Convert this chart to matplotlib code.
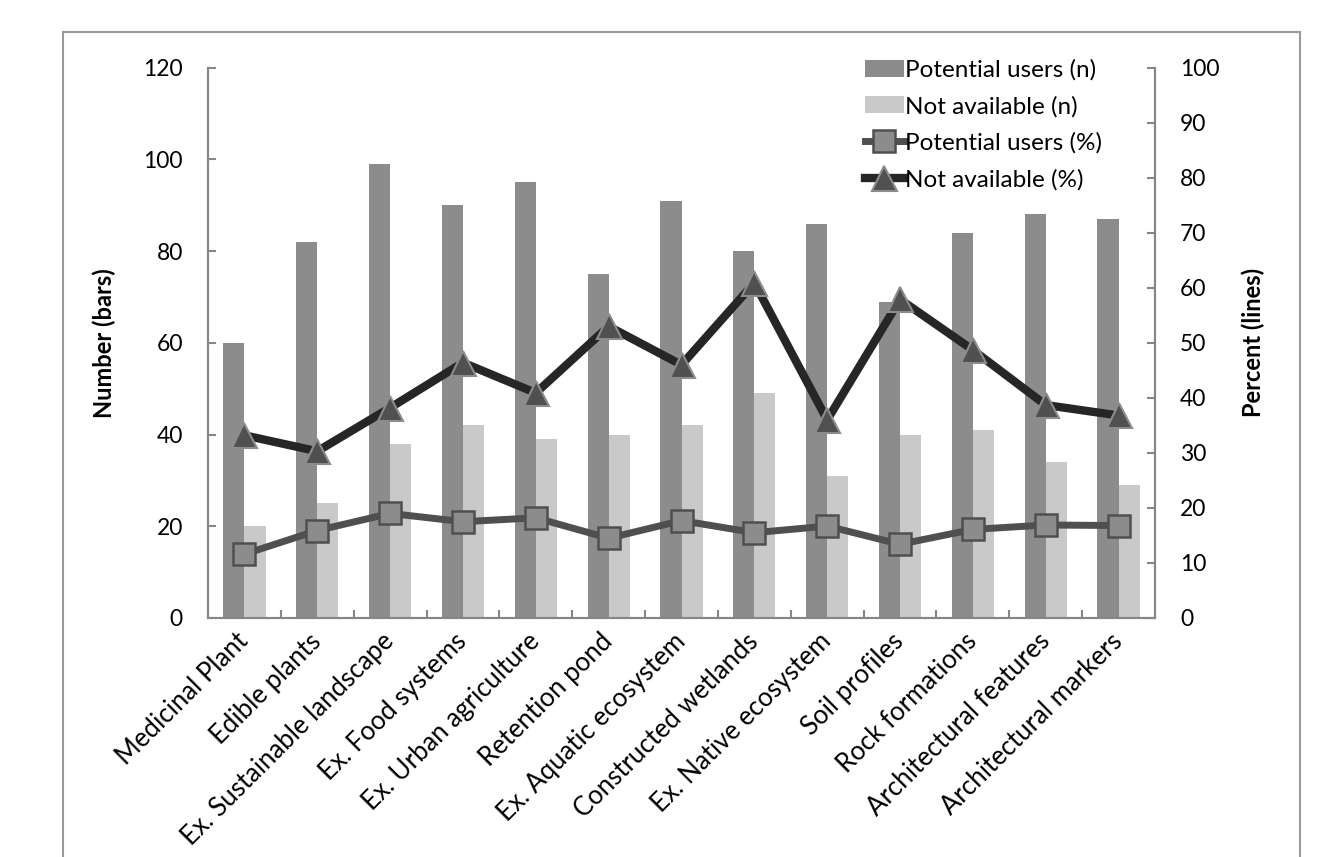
import numpy as np
import matplotlib
matplotlib.use("Agg")
import matplotlib.pyplot as plt
from matplotlib.patches import Rectangle

plt.rcParams["font.family"] = ["Lato", "DejaVu Sans"]

categories = [
    "Medicinal Plant", "Edible plants", "Ex. Sustainable landscape",
    "Ex. Food systems", "Ex. Urban agriculture", "Retention pond",
    "Ex. Aquatic ecosystem", "Constructed wetlands", "Ex. Native ecosystem",
    "Soil profiles", "Rock formations", "Architectural features",
    "Architectural markers",
]
potential_n = [60, 82, 99, 90, 95, 75, 91, 80, 86, 69, 84, 88, 87]
not_avail_n = [20, 25, 38, 42, 39, 40, 42, 49, 31, 40, 41, 34, 29]
potential_pct = [11.6, 15.9, 19.0, 17.5, 18.2, 14.5, 17.7, 15.5, 16.7, 13.4, 16.1, 16.9, 16.8]
not_avail_pct = [33.2, 30.3, 38.2, 46.4, 40.9, 53.0, 46.0, 60.9, 36.0, 57.9, 48.7, 38.7, 36.8]

W, H = 1337, 857
fig = plt.figure(figsize=(W / 100, H / 100), dpi=100)
ax = fig.add_axes([208 / W, 1 - 618 / H, (1155 - 208) / W, (618 - 67.7) / H])

x = np.arange(len(categories))
w = 0.29
b1 = ax.bar(x - w / 2, potential_n, w, color="#8c8c8c", label="Potential users (n)", zorder=2)
b2 = ax.bar(x + w / 2, not_avail_n, w, color="#c9c9c9", label="Not available (n)", zorder=2)
ax.set_xlim(-0.5, len(categories) - 0.5)
ax.set_ylim(0, 120)
ax.set_yticks(range(0, 121, 20))

ax2 = ax.twinx()
ax2.set_ylim(0, 100)
ax2.set_yticks(range(0, 101, 10))
l1, = ax2.plot(x, potential_pct, color="#4f4f4f", lw=5, marker="s", ms=16,
               mfc="#8c8c8c", mec="#4f4f4f", mew=1.8, label="Potential users (%)")
l2, = ax2.plot(x, not_avail_pct, color="#262626", lw=6, marker="^", ms=18,
               mfc="#505050", mec="#8c8c8c", mew=1.5, label="Not available (%)")

axis_col = "#868686"
for a in (ax, ax2):
    a.spines["top"].set_visible(False)
    for s in ("left", "right", "bottom"):
        a.spines[s].set_color(axis_col)
        a.spines[s].set_linewidth(1.5)

ax.tick_params(axis="y", direction="in", length=6, width=1.5, color=axis_col,
               labelsize=16.5, pad=18)
ax2.tick_params(axis="y", direction="in", length=6, width=1.5, color=axis_col,
                labelsize=16.5, pad=18)

# category labels at the centres, tick marks between categories
ax.set_xticks(x)
ax.set_xticklabels(categories, rotation=45, ha="right", va="center",
                   rotation_mode="anchor", fontsize=18.5)
ax.tick_params(axis="x", which="major", length=0, pad=14)
ax.set_xticks(np.arange(0.5, len(categories) - 1, 1.0), minor=True)
ax.tick_params(axis="x", which="minor", direction="in", length=6, width=1.5, color=axis_col)

ax.set_ylabel("Number (bars)", fontsize=17, fontweight="bold", labelpad=20)
ax2.set_ylabel("Percent (lines)", fontsize=17, fontweight="bold", labelpad=16)

ax2.legend(handles=[b1, b2, l1, l2], loc="upper left",
           bbox_to_anchor=(865 / W, 1 - 59 / H), bbox_transform=fig.transFigure,
           frameon=False, fontsize=17.5, handlelength=1.6, handletextpad=0.05,
           labelspacing=0.62, borderpad=0, borderaxespad=0)

fig.add_artist(Rectangle((63 / W, -0.1), (1300 - 63) / W, 1.1 - 32 / H,
                         transform=fig.transFigure, fill=False,
                         edgecolor="#999999", lw=1.5))

fig.savefig("out.png", dpi=100)
